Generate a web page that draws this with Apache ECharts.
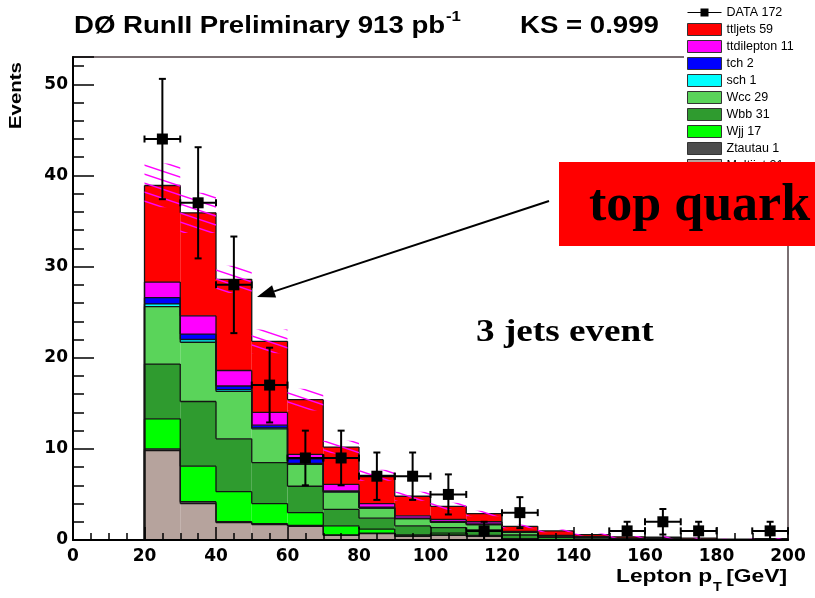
<!DOCTYPE html>
<html><head><meta charset="utf-8">
<script src="https://cdn.jsdelivr.net/npm/echarts@6/dist/echarts.min.js"></script>
<style>html,body{margin:0;padding:0;background:#fff;}#c{width:815px;height:598px;}</style>
</head><body><div id="c"></div>
<script>
// ---- data ----
var binLo = [20,30,40,50,60,70,80,90,100,110,120,130,140,150,160,170,180,190];
var binHi = [30,40,50,60,70,80,90,100,110,120,130,140,150,160,170,180,190,200];
var dataCounts = [44,37,28,17,9,9,7,7,5,1,3,0,0,1,2,1,0,1];
var dataErr    = [6.6,6.1,5.3,4.1,3.0,3.0,2.6,2.6,2.2,1.0,1.7,0,0,1.0,1.4,1.0,0,1.0];
var multijet   = [9.8,4.0,1.9,1.7,1.5,0.5,0.7,0.4,0.5,0.4,0.1,0.05,0,0,0,0,0,0];
var ztautau    = [0.2,0.2,0.1,0.1,0.1,0.05,0.05,0.05,0.05,0,0,0,0,0,0,0,0,0];
var wjj        = [3.3,3.9,3.3,2.2,1.4,1.0,0.45,0.1,0.2,0.1,0.05,0,0,0,0,0,0,0];
var wbb        = [6.0,7.1,5.8,4.5,2.9,1.8,1.2,1.0,0.6,0.6,0.4,0.25,0.2,0.1,0.05,0.05,0,0.05];
var wcc        = [6.3,6.5,5.2,3.7,2.4,1.9,1.1,0.8,0.6,0.6,0.3,0.15,0.1,0.05,0.05,0,0,0];
var sch        = [0.3,0.3,0.2,0.1,0.1,0.05,0,0,0,0,0,0,0,0,0,0,0,0];
var tch        = [0.7,0.6,0.4,0.3,0.5,0.1,0.1,0.05,0.05,0.05,0,0,0,0,0,0,0,0];
var ttdilepton = [1.7,2.0,1.7,1.4,0.5,0.7,0.4,0.25,0.25,0.25,0.1,0.05,0.05,0.05,0.05,0.05,0.05,0.05];
var ttljets    = [10.6,11.3,10.0,7.8,6.0,4.1,3.1,2.15,1.45,0.9,0.55,0.5,0.25,0.15,0.15,0.1,0.05,0.05];
var bandErr    = [2.4,2.2,1.5,1.3,1.2,0.7,0.6,0.5,0.4,0.3,0.2,0.15,0.1,0.1,0.1,0.05,0.05,0.05];
var xTickLabels = ['0','20','40','60','80','100','120','140','160','180','200'];
var yTickLabels = ['0','10','20','30','40','50'];
var legendNames = ['DATA 172','ttljets 59','ttdilepton 11','tch 2','sch 1','Wcc 29','Wbb 31','Wjj 17','Ztautau 1','Multijet 21'];

// stack order bottom -> top
var components = [
  {name:'Multijet 21', values:multijet, color:'#b6a39d'},
  {name:'Ztautau 1', values:ztautau, color:'#4d4d4d'},
  {name:'Wjj 17', values:wjj, color:'#00ff00'},
  {name:'Wbb 31', values:wbb, color:'#2f9b2f'},
  {name:'Wcc 29', values:wcc, color:'#5ad45a'},
  {name:'sch 1', values:sch, color:'#00ffff'},
  {name:'tch 2', values:tch, color:'#0000ff'},
  {name:'ttdilepton 11', values:ttdilepton, color:'#ff00ff'},
  {name:'ttljets 59', values:ttljets, color:'#ff0000'}
];

var chart = echarts.init(document.getElementById('c'), null, {renderer:'canvas'});

// hatch pattern
var pc = document.createElement('canvas'); pc.width = 27; pc.height = 9;
var g = pc.getContext('2d'); g.strokeStyle = '#ff00ff'; g.lineWidth = 1.4;
for (var k = -1; k <= 1; k++) { g.beginPath(); g.moveTo(0, k*9); g.lineTo(27, k*9+9); g.stroke(); }
var hatch = {image: pc, repeat: 'repeat'};

function lineStyle(){ return {stroke:'#141414', lineWidth:1.3, fill:null}; }

function renderStack(params, api) {
  var x0 = api.value(0), x1 = api.value(1), b = api.value(2), t = api.value(3), pt = api.value(4), last = api.value(5);
  var pA = api.coord([x0, t]), pB = api.coord([x1, b]), pP = api.coord([x0, pt]), pZ = api.coord([x1, 0]);
  var ch = [];
  if (t > b) ch.push({type:'rect', shape:{x:pA[0], y:pA[1], width:pB[0]-pA[0], height:pB[1]-pA[1]}, style:{fill:api.visual('color')}, z2:0});
  if (t > 0) ch.push({type:'line', shape:{x1:pA[0], y1:pA[1], x2:pB[0], y2:pA[1]}, style:lineStyle(), z2:10});
  if (pt !== t) ch.push({type:'line', shape:{x1:pA[0], y1:pP[1], x2:pA[0], y2:pA[1]}, style:lineStyle(), z2:10});
  if (last && t > 0) ch.push({type:'line', shape:{x1:pB[0], y1:pA[1], x2:pB[0], y2:pZ[1]}, style:lineStyle(), z2:10});
  return {type:'group', children:ch};
}

var series = [];
var cum = binLo.map(function(){ return 0; });
components.forEach(function(c){
  var tops = cum.map(function(v,i){ return v + c.values[i]; });
  var rows = binLo.map(function(lo,i){
    return [lo, binHi[i], cum[i], tops[i], i > 0 ? tops[i-1] : 0, i === binLo.length-1 ? 1 : 0];
  });
  series.push({type:'custom', name:c.name, z:2, renderItem:renderStack, itemStyle:{color:c.color},
    encode:{x:[0,1], y:[2,3]}, data:rows, silent:true});
  cum = tops;
});

// uncertainty band
var bandRows = binLo.map(function(lo,i){ return [lo, binHi[i], cum[i]-bandErr[i], cum[i]+bandErr[i]]; });
series.push({type:'custom', name:'band', z:3, silent:true, encode:{x:[0,1], y:[2,3]}, data:bandRows,
  renderItem:function(params, api){
    var lo = api.value(2), hi = api.value(3);
    if (hi - lo <= 0) return null;
    var a = api.coord([api.value(0), hi]), b = api.coord([api.value(1), lo]);
    return {type:'rect', shape:{x:a[0], y:a[1], width:b[0]-a[0], height:b[1]-a[1]}, style:{fill:hatch}};
  }});

// data points
var dataRows = binLo.map(function(lo,i){ return [lo, binHi[i], dataCounts[i], dataErr[i]]; });
series.push({type:'custom', name:'DATA 172', z:4, silent:true, itemStyle:{color:'#000'}, encode:{x:[0,1], y:2}, data:dataRows,
  renderItem:function(params, api){
    var x0 = api.value(0), x1 = api.value(1), n = api.value(2), e = api.value(3);
    if (!(n > 0)) return null;
    var xc = (x0 + x1) / 2;
    var c = api.coord([xc, n]), l = api.coord([x0, n]), r = api.coord([x1, n]);
    var up = api.coord([xc, n + e]), dn = api.coord([xc, Math.max(n - e, 0)]);
    var s = function(){ return {stroke:'#000', lineWidth:2, fill:null}; };
    var cap = 3.5, m = 5.5;
    return {type:'group', children:[
      {type:'line', shape:{x1:l[0], y1:c[1], x2:r[0], y2:c[1]}, style:s()},
      {type:'line', shape:{x1:l[0], y1:c[1]-cap, x2:l[0], y2:c[1]+cap}, style:s()},
      {type:'line', shape:{x1:r[0], y1:c[1]-cap, x2:r[0], y2:c[1]+cap}, style:s()},
      {type:'line', shape:{x1:c[0], y1:up[1], x2:c[0], y2:dn[1]}, style:s()},
      {type:'line', shape:{x1:c[0]-cap, y1:up[1], x2:c[0]+cap, y2:up[1]}, style:s()},
      {type:'line', shape:{x1:c[0]-cap, y1:dn[1], x2:c[0]+cap, y2:dn[1]}, style:s()},
      {type:'rect', shape:{x:c[0]-m, y:c[1]-m, width:2*m, height:2*m}, style:{fill:'#000'}}
    ]};
  }});

var legendData = legendNames.map(function(n, i){
  if (i === 0) return {name:n, icon:'path://M0,5.5H13V2H21V5.5H34V6.5H21V10H13V6.5H0Z', itemStyle:{borderWidth:0}};
  return {name:n, icon:'rect'};
});

var labelFont = {fontFamily:'DejaVu Sans', fontWeight:'bold', fontSize:17, color:'#000'};
function pickLabel(list){ return function(v){ var s = String(v); return list.indexOf(s) >= 0 ? s : ''; }; }

var option = {
  animation:false,
  backgroundColor:'#fff',
  grid:{left:73, right:27, top:57, bottom:58, show:true, borderColor:'#7a6f72', borderWidth:2, backgroundColor:'transparent', outerBoundsMode:'none'},
  legend:{orient:'vertical', left:684, top:3, itemWidth:34, itemHeight:12, itemGap:4, selectedMode:false,
    backgroundColor:'#fff', padding:[3,6,6,3],
    textStyle:{fontFamily:'Liberation Sans', fontSize:12.5, color:'#000'},
    itemStyle:{borderColor:'#333', borderWidth:1}, data:legendData},
  xAxis:{type:'value', min:0, max:200, interval:20, position:'bottom', z:10,
    axisLine:{show:true, onZero:false, lineStyle:{color:'#000', width:2}},
    axisTick:{show:true, inside:true, length:13, lineStyle:{color:'#000', width:1.5}},
    minorTick:{show:true, splitNumber:4, length:7, lineStyle:{color:'#000', width:1.5}},
    axisLabel:Object.assign({margin:8, showMinLabel:true, showMaxLabel:true, formatter:pickLabel(xTickLabels)}, labelFont),
    splitLine:{show:false}, minorSplitLine:{show:false}},
  yAxis:[
    {type:'value', min:0, max:53, interval:10, position:'left', z:10,
      axisLine:{show:true, onZero:false, lineStyle:{color:'#000', width:2}},
      axisTick:{show:true, inside:true, length:21, lineStyle:{color:'#000', width:1.5}},
      axisLabel:Object.assign({margin:5, showMinLabel:true, formatter:pickLabel(yTickLabels)}, labelFont),
      splitLine:{show:false}},
    {type:'value', min:0, max:53, interval:2, position:'left', offset:0, z:10,
      axisLine:{show:false}, axisTick:{show:true, inside:true, length:11, lineStyle:{color:'#000', width:1.5}},
      axisLabel:{show:false}, splitLine:{show:false}}
  ],
  series:series
};
chart.setOption(option);

// annotations
var tip = [257, 297], tail = [549, 201];
var dx = tip[0]-tail[0], dy = tip[1]-tail[1], L = Math.sqrt(dx*dx+dy*dy), ux = dx/L, uy = dy/L;
var hl = 18, hw = 6.5;
var bx = tip[0]-ux*hl, by = tip[1]-uy*hl;
chart.setOption({graphic:[
  {type:'text', x:74, y:27, scaleX:1.2, style:{text:'DØ RunII Preliminary 913 pb', font:'bold 23px "Liberation Sans"', fill:'#000', verticalAlign:'middle'}},
  {type:'text', x:446, y:17, scaleX:1.2, style:{text:'-1', font:'bold 14px "Liberation Sans"', fill:'#000', verticalAlign:'middle'}},
  {type:'text', x:520, y:27, scaleX:1.2, style:{text:'KS = 0.999', font:'bold 23px "Liberation Sans"', fill:'#000', verticalAlign:'middle'}},
  {type:'text', x:16, y:129, rotation:Math.PI/2, scaleX:1.2, style:{text:'Events', font:'bold 17px "Liberation Sans"', fill:'#000', align:'left', verticalAlign:'middle'}},
  {type:'text', x:616, y:577, scaleX:1.2, style:{text:'Lepton p', font:'bold 19px "Liberation Sans"', fill:'#000', verticalAlign:'middle'}},
  {type:'text', x:713, y:588, scaleX:1.2, style:{text:'T', font:'bold 12px "Liberation Sans"', fill:'#000', verticalAlign:'middle'}},
  {type:'text', x:787, y:577, scaleX:1.2, style:{text:'[GeV]', font:'bold 19px "Liberation Sans"', fill:'#000', align:'right', verticalAlign:'middle'}},
  {type:'text', x:476, y:333, scaleX:1.2, style:{text:'3 jets event', font:'bold 31px "Liberation Serif"', fill:'#000', verticalAlign:'middle'}},
  {type:'line', z:100, shape:{x1:tail[0], y1:tail[1], x2:bx, y2:by}, style:{stroke:'#000', lineWidth:2}},
  {type:'polygon', z:100, shape:{points:[[tip[0],tip[1]],[bx - uy*hw, by + ux*hw],[bx + uy*hw, by - ux*hw]]}, style:{fill:'#000'}},
  {type:'rect', z:100, shape:{x:559, y:162, width:256, height:84}, style:{fill:'#ff0000'}},
  {type:'text', z:101, x:589, y:207, style:{text:'top quark', font:'bold 52px "Liberation Serif"', fill:'#000', verticalAlign:'middle'}}
]});
</script></body></html>
